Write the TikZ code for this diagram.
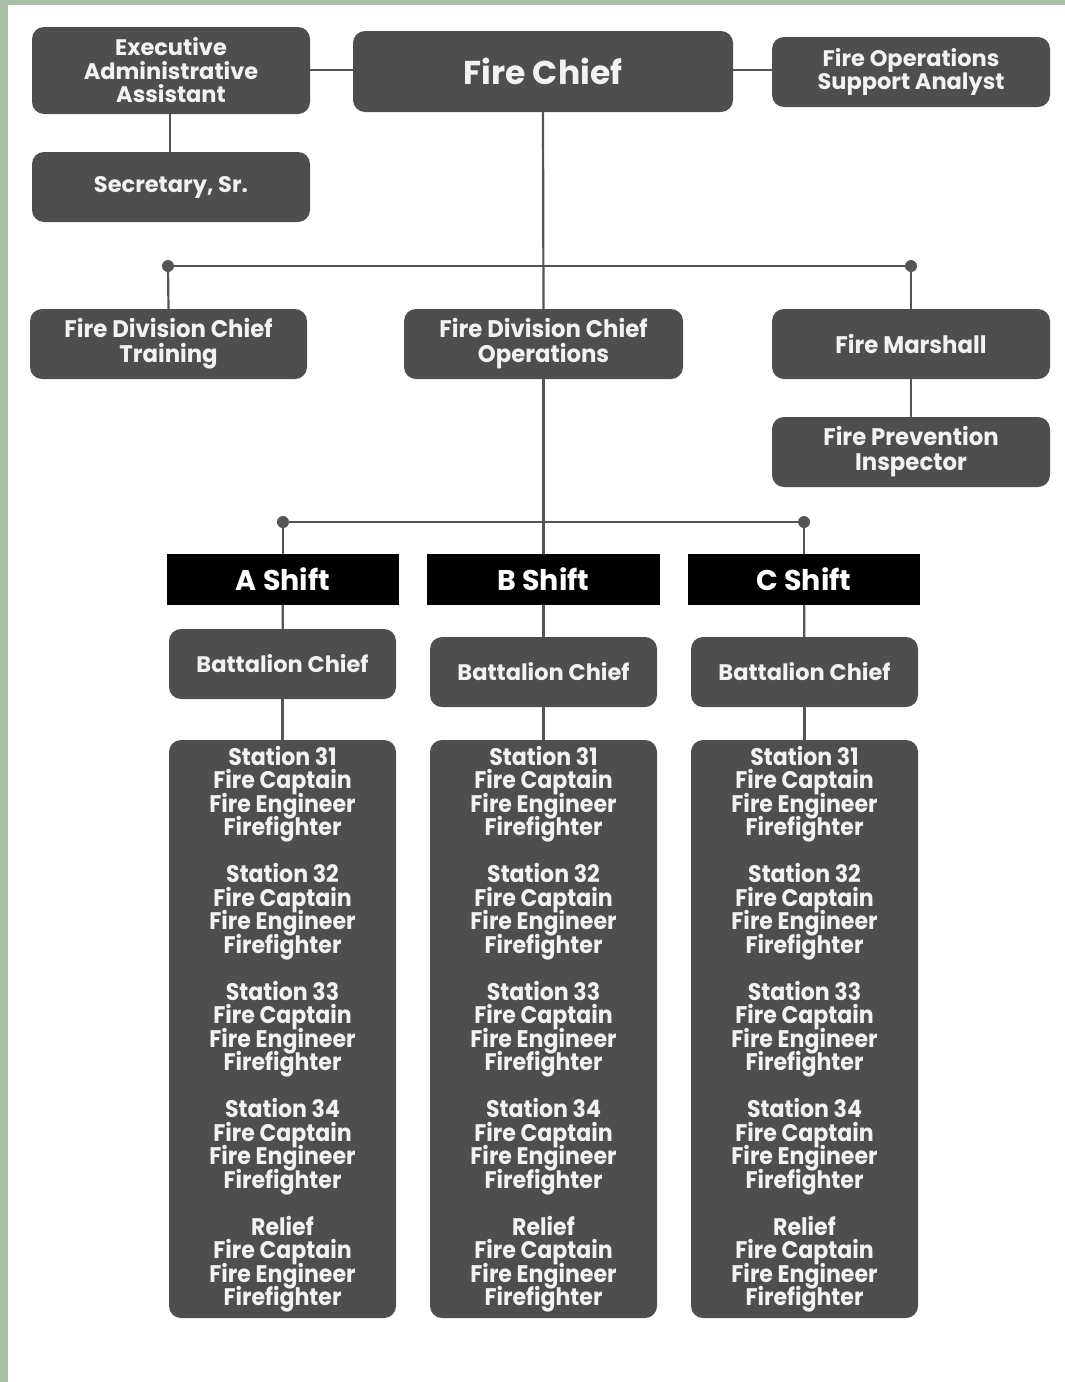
\documentclass[tikz,border=0pt]{standalone}
\usepackage{fontspec}
\setmainfont{Poppins}
\newfontfamily\popcond{Poppins}[FakeStretch=0.95]
\newfontfamily\popst{Poppins}[FakeStretch=0.92]
\usetikzlibrary{backgrounds}
\definecolor{boxgray}{HTML}{4E4E4E}
\definecolor{txtgray}{HTML}{F2F2F2}
\definecolor{linegray}{HTML}{555555}
\definecolor{edgegreen}{HTML}{A9BFA6}
\newcommand{\tightls}{\lineskiplimit-100pt\relax}
\tikzset{
  orgbox/.style={rectangle, rounded corners=12pt, fill=boxgray, text=txtgray, align=center, inner sep=0pt},
  topfont/.style={font={\bfseries\fontsize{22.5}{23.5}\selectfont\tightls}},
  condfont/.style={font={\popcond\bfseries\fontsize{24}{25}\selectfont\tightls}},
  shiftbox/.style={rectangle, fill=black, text=white, align=center, inner sep=0pt, font={\bfseries\fontsize{28.5}{30}\selectfont}},
  stfont/.style={font={\popst\bfseries\fontsize{24}{23.5}\selectfont\tightls}},
  conn/.style={draw=linegray, line width=2.2pt},
  jdot/.style={fill=linegray}
}
\newcommand{\stlist}{Station 31\\Fire Captain\\Fire Engineer\\Firefighter\\[23.5pt]%
Station 32\\Fire Captain\\Fire Engineer\\Firefighter\\[23.5pt]%
Station 33\\Fire Captain\\Fire Engineer\\Firefighter\\[23.5pt]%
Station 34\\Fire Captain\\Fire Engineer\\Firefighter\\[23.5pt]%
Relief\\Fire Captain\\Fire Engineer\\Firefighter}
\begin{document}
\begin{tikzpicture}[x=1pt,y=-1pt]
\useasboundingbox (0,0) rectangle (1065,1382);

% top row
\node[orgbox, topfont, minimum width=278pt, minimum height=87pt] (exec) at (171,70.5) {Executive\\Administrative\\Assistant};
\node[orgbox, font={\bfseries\fontsize{33}{35}\selectfont}, minimum width=380pt, minimum height=81pt] (chief) at (543,71.5) {Fire Chief};
\node[orgbox, topfont, minimum width=278pt, minimum height=70pt] (analyst) at (911,72) {Fire Operations\\Support Analyst};
\node[orgbox, topfont, minimum width=278pt, minimum height=70pt] (sec) at (171,187) {Secretary, Sr.};

% division row
\node[orgbox, condfont, minimum width=277pt, minimum height=70pt] (train) at (168.5,344) {Fire Division Chief\\Training};
\node[orgbox, condfont, minimum width=279pt, minimum height=70pt] (ops) at (543.5,344) {Fire Division Chief\\Operations};
\node[orgbox, condfont, minimum width=278pt, minimum height=70pt] (marsh) at (911,344) {Fire Marshall};
\node[orgbox, condfont, minimum width=278pt, minimum height=70pt] (insp) at (911,452) {Fire Prevention\\Inspector};

% shifts
\node[shiftbox, minimum width=232pt, minimum height=51pt] (ash) at (283,579.5) {A Shift};
\node[shiftbox, minimum width=233pt, minimum height=51pt] (bsh) at (543.5,579.5) {B Shift};
\node[shiftbox, minimum width=232pt, minimum height=51pt] (csh) at (804,579.5) {C Shift};

\node[orgbox, topfont, minimum width=227pt, minimum height=70pt] (abc) at (282.5,664) {Battalion Chief};
\node[orgbox, topfont, minimum width=227pt, minimum height=70pt] (bbc) at (543.5,672) {Battalion Chief};
\node[orgbox, topfont, minimum width=227pt, minimum height=70pt] (cbc) at (804.5,672) {Battalion Chief};

\node[orgbox, stfont, minimum width=227pt, minimum height=578pt] (ast) at (282.5,1029) {\stlist};
\node[orgbox, stfont, minimum width=227pt, minimum height=578pt] (bst) at (543.5,1029) {\stlist};
\node[orgbox, stfont, minimum width=227pt, minimum height=578pt] (cst) at (804.5,1029) {\stlist};

\coordinate (jL) at (168,266);
\coordinate (jR) at (911,266);
\coordinate (kL) at (283,522);
\coordinate (kR) at (804,522);

\begin{scope}[on background layer]
\fill[white] (0,0) rectangle (1065,1382);
\fill[edgegreen] (0,0) rectangle (8,1382);
\fill[edgegreen] (0,0) rectangle (1065,5);
\draw[conn] (exec.east |- 0,70) -- (chief.west |- 0,70);
\draw[conn] (chief.east |- 0,70) -- (analyst.west |- 0,70);
\draw[conn] (exec.south -| 170,0) -- (sec.north -| 170,0);
\draw[conn] (chief.south) -- (ops.north);
\draw[conn] (ops.south) -- (bsh.north);
\draw[conn] (jL) -- (jR);
\draw[conn] (jL) -- (train.north);
\draw[conn] (jR) -- (marsh.north);
\draw[conn] (marsh) -- (insp);
\draw[conn] (kL) -- (kR);
\draw[conn] (kL) -- (ash.north);
\draw[conn] (kR) -- (csh.north);
\draw[conn] (ash) -- (abc);
\draw[conn] (bsh) -- (bbc);
\draw[conn] (csh) -- (cbc);
\draw[conn] (abc) -- (ast);
\draw[conn] (bbc) -- (bst);
\draw[conn] (cbc) -- (cst);
\end{scope}
\fill[jdot] (jL) circle (6pt);
\fill[jdot] (jR) circle (6pt);
\fill[jdot] (kL) circle (6pt);
\fill[jdot] (kR) circle (6pt);
\end{tikzpicture}
\end{document}
